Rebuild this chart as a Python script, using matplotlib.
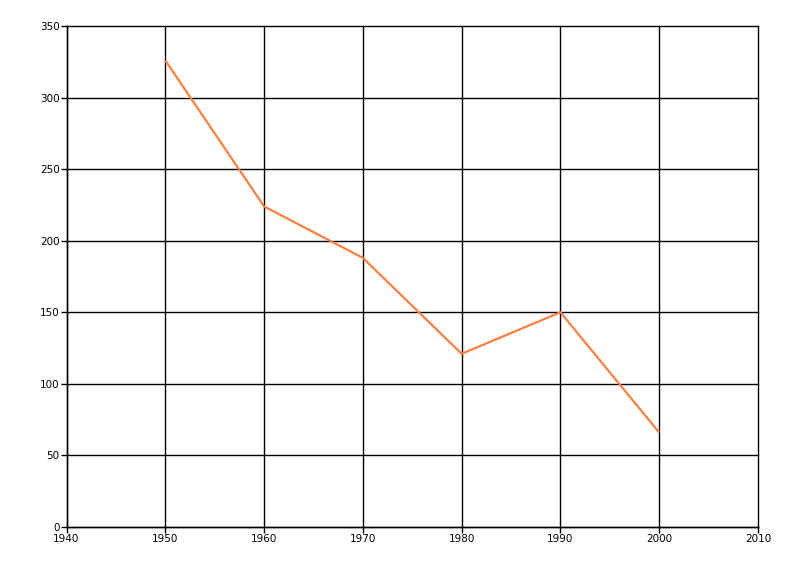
import matplotlib
matplotlib.use("Agg")
import matplotlib.pyplot as plt

years = [1950, 1960, 1970, 1980, 1990, 2000]
values = [326, 224, 188, 121, 150, 66]
x_ticks = [1940, 1950, 1960, 1970, 1980, 1990, 2000, 2010]
y_ticks = [0, 50, 100, 150, 200, 250, 300, 350]

fig = plt.figure(figsize=(8, 5.76), dpi=100)
ax = fig.add_axes([66.5/800, 49/576, (758-66.5)/800, (527-26)/576])
ax.plot(years, values, color="#FF7F3F", linewidth=1.6, solid_capstyle="butt", zorder=3)
ax.set_xlim(1940, 2010)
ax.set_ylim(0, 350)
ax.set_xticks(x_ticks)
ax.set_yticks(y_ticks)
ax.grid(True, color="black", linewidth=1)
for gl in ax.get_xgridlines() + ax.get_ygridlines():
    gl.set_clip_on(False)
for s in ["top", "right"]:
    ax.spines[s].set_visible(False)
for s in ["left", "bottom"]:
    ax.spines[s].set_linewidth(1)
ax.tick_params(direction="out", length=4, width=1, labelsize=7.5, pad=1)
ax.set_axisbelow(True)
fig.savefig("out.png", dpi=100)
